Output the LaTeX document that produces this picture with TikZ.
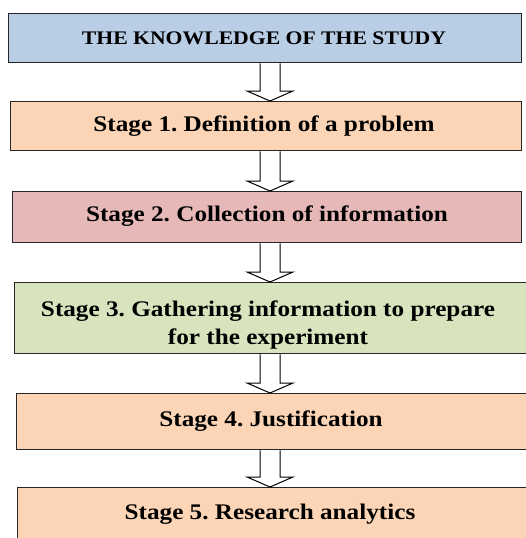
\documentclass[tikz,border=0pt]{standalone}
\usepackage{fontspec}
\setmainfont[FakeStretch=1.13]{Liberation Serif}
\usetikzlibrary{calc}
\definecolor{cblue}{HTML}{B9CDE5}
\definecolor{corange}{HTML}{FBD5B5}
\definecolor{cpink}{HTML}{E6B9B8}
\definecolor{cgreen}{HTML}{D7E4BD}
\tikzset{
  stagebox/.style={draw=black!85, line width=1.4pt, rectangle, anchor=north west, inner sep=0pt},
  stagetext/.style={font=\bfseries\fontsize{22.3}{27}\selectfont, align=center, inner sep=0pt},
  titletext/.style={stagetext, font=\bfseries\fontsize{19.2}{27}\selectfont},
  blockarrow/.style={draw=black, line width=1pt, fill=white, line join=miter}
}
\newcommand\blockarr[2]{%
  \draw[blockarrow] ($(#1.south -| ax)+(-10,0)$) -- ($(#2.north -| ax)+(-10,10)$) -- ($(#2.north -| ax)+(-23,10)$) -- (#2.north -| ax) -- ($(#2.north -| ax)+(23,10)$) -- ($(#2.north -| ax)+(10,10)$) -- ($(#1.south -| ax)+(10,0)$);}
\frenchspacing
\begin{document}
\begin{tikzpicture}[x=1pt,y=1pt]
\useasboundingbox (0,0) rectangle (525,-538);
\coordinate (ax) at (270,0);
\node[stagebox, fill=cblue, minimum width=513pt, minimum height=49pt] (b0) at (8,-13) {};
\node[stagebox, fill=corange, minimum width=511pt, minimum height=49pt] (b1) at (10,-101) {};
\node[stagebox, fill=cpink, minimum width=509pt, minimum height=51pt] (b2) at (12,-191) {};
\node[stagebox, fill=cgreen, minimum width=520pt, minimum height=71pt] (b3) at (14,-282) {};
\node[stagebox, fill=corange, minimum width=520pt, minimum height=56pt] (b4) at (16,-393) {};
\node[stagebox, fill=corange, minimum width=520pt, minimum height=60pt] (b5) at (17,-487) {};
\node[titletext] (t0) at (264,-38) {THE KNOWLEDGE OF THE STUDY};
\node[stagetext] (t1) at (264,-126) {Stage 1. Definition of a problem};
\node[stagetext] (t2) at (267,-216) {Stage 2. Collection of information};
\node[stagetext, anchor=base] (t3) at (268,-316) {Stage 3. Gathering information to prepare};
\node[stagetext, anchor=base] (t3b) at (268,-344) {for the experiment};
\node[stagetext] (t4) at (271,-421) {Stage 4. Justification};
\node[stagetext] (t5) at (270,-514) {Stage 5. Research analytics};
\blockarr{b0}{b1}
\blockarr{b1}{b2}
\blockarr{b2}{b3}
\blockarr{b3}{b4}
\blockarr{b4}{b5}
\end{tikzpicture}
\end{document}
